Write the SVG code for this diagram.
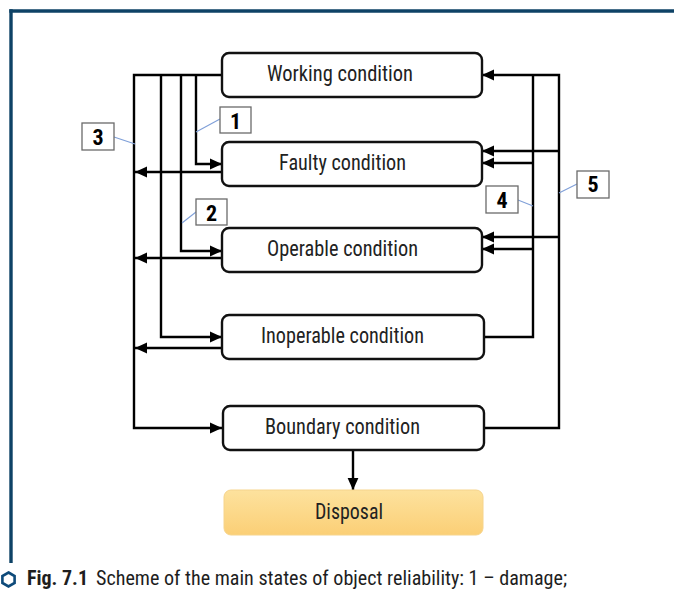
<svg xmlns="http://www.w3.org/2000/svg" width="674" height="589" viewBox="0 0 674 589">
  <style>
    .box { fill: #ffffff; stroke: #111111; stroke-width: 2.4; }
    .lbl { font-family: "Liberation Sans Narrow", "Roboto Condensed", "DejaVu Sans Condensed", "Liberation Sans", sans-serif; font-size: 22px; fill: #222222; text-anchor: middle; }
    .num { font-family: "Liberation Sans Narrow", "Roboto Condensed", "DejaVu Sans Condensed", "Liberation Sans", sans-serif; font-size: 22px; font-weight: bold; fill: #000000; text-anchor: middle; }
    .tag { fill: #ffffff; stroke: #6a6a6a; stroke-width: 1.3; }
    .lead { stroke: #7f9fd8; stroke-width: 1.1; fill: none; }
    .conn { stroke: #000000; stroke-width: 2.4; fill: none; stroke-linejoin: miter; }
    .arr { marker-end: url(#ah); }
    .cap { font-family: "Liberation Sans Narrow", "Roboto Condensed", "DejaVu Sans Condensed", "Liberation Sans", sans-serif; font-size: 20px; fill: #1e1e1e; }
  </style>
  <defs>
    <marker id="ah" markerUnits="userSpaceOnUse" markerWidth="12" markerHeight="12" refX="10" refY="5" orient="auto" viewBox="0 0 10 10">
      <path d="M0,0.5 L10,5 L0,9.5 Z" fill="#000000"/>
    </marker>
    <linearGradient id="disp" x1="0" y1="0" x2="0" y2="1">
      <stop offset="0" stop-color="#fde29e"/>
      <stop offset="1" stop-color="#fbcf76"/>
    </linearGradient>
  </defs>

  <!-- frame -->
  <g id="frame">
    <line x1="9.3" y1="11" x2="674" y2="11" stroke="#0e4266" stroke-width="3.4"/>
    <line x1="11" y1="9.3" x2="11" y2="563" stroke="#0e4266" stroke-width="3.4"/>
  </g>

  <!-- connectors -->
  <g id="connectors">
    <!-- left side: transitions from working condition -->
    <path class="conn arr" d="M222,75 H134 V428 H222"/>
    <path class="conn arr" d="M161,75 V337 H222"/>
    <path class="conn arr" d="M181,75 V251 H222"/>
    <path class="conn arr" d="M196,75 V164 H222"/>
    <!-- left returns -->
    <path class="conn arr" d="M222,172 H135"/>
    <path class="conn arr" d="M222,258 H135"/>
    <path class="conn arr" d="M222,348 H135"/>
    <!-- right side -->
    <path class="conn arr" d="M484,428 H559 V75 H482"/>
    <path class="conn" d="M484,337 H533 V75"/>
    <path class="conn arr" d="M559,151 H482"/>
    <path class="conn arr" d="M533,163 H482"/>
    <path class="conn arr" d="M559,237 H482"/>
    <path class="conn arr" d="M533,249 H482"/>
    <!-- to disposal -->
    <path class="conn arr" d="M353,450 V490"/>
  </g>

  <!-- nodes -->
  <g id="working">
    <rect class="box" x="222" y="53" width="260" height="44" rx="7"/>
    <text class="lbl" x="340" y="81" textLength="146" lengthAdjust="spacingAndGlyphs">Working condition</text>
  </g>
  <g id="faulty">
    <rect class="box" x="222" y="142" width="260" height="44" rx="7"/>
    <text class="lbl" x="342.5" y="170" textLength="127" lengthAdjust="spacingAndGlyphs">Faulty condition</text>
  </g>
  <g id="operable">
    <rect class="box" x="222" y="228" width="260" height="44" rx="7"/>
    <text class="lbl" x="342.5" y="256" textLength="151" lengthAdjust="spacingAndGlyphs">Operable condition</text>
  </g>
  <g id="inoperable">
    <rect class="box" x="222" y="315" width="262" height="44" rx="7"/>
    <text class="lbl" x="342.5" y="343" textLength="163" lengthAdjust="spacingAndGlyphs">Inoperable condition</text>
  </g>
  <g id="boundary">
    <rect class="box" x="223" y="406" width="261" height="44" rx="7"/>
    <text class="lbl" x="342.5" y="434" textLength="155" lengthAdjust="spacingAndGlyphs">Boundary condition</text>
  </g>
  <g id="disposal">
    <rect x="224" y="490" width="259" height="45" rx="7" fill="url(#disp)" stroke="#f6d48c" stroke-width="1"/>
    <text class="lbl" x="349" y="519" textLength="68" lengthAdjust="spacingAndGlyphs">Disposal</text>
  </g>

  <!-- number tags -->
  <g id="tag1">
    <line class="lead" x1="196" y1="132" x2="220" y2="119"/>
    <rect class="tag" x="220" y="107" width="31" height="26"/>
    <text class="num" x="235.5" y="129">1</text>
  </g>
  <g id="tag2">
    <line class="lead" x1="182" y1="223" x2="196" y2="212"/>
    <rect class="tag" x="196" y="199" width="31" height="26"/>
    <text class="num" x="211.5" y="221">2</text>
  </g>
  <g id="tag3">
    <line class="lead" x1="114" y1="137" x2="135" y2="144"/>
    <rect class="tag" x="82" y="123" width="32" height="27"/>
    <text class="num" x="98" y="145">3</text>
  </g>
  <g id="tag4">
    <line class="lead" x1="518" y1="200" x2="533" y2="206"/>
    <rect class="tag" x="486" y="186" width="32" height="27"/>
    <text class="num" x="502" y="208">4</text>
  </g>
  <g id="tag5">
    <line class="lead" x1="559" y1="193" x2="577" y2="184"/>
    <rect class="tag" x="577" y="171" width="32" height="27"/>
    <text class="num" x="593" y="192">5</text>
  </g>

  <!-- caption -->
  <g id="caption">
    <polygon points="8.5,572.5 14.6,576 14.6,583 8.5,586.5 2.4,583 2.4,576" fill="none" stroke="#0e4a7a" stroke-width="2.6"/>
    <text class="cap" x="27" y="584.5" font-weight="bold" textLength="61" lengthAdjust="spacingAndGlyphs">Fig. 7.1</text>
    <text class="cap" x="96" y="584.5" textLength="471" lengthAdjust="spacingAndGlyphs">Scheme of the main states of object reliability: 1 – damage;</text>
  </g>
</svg>
